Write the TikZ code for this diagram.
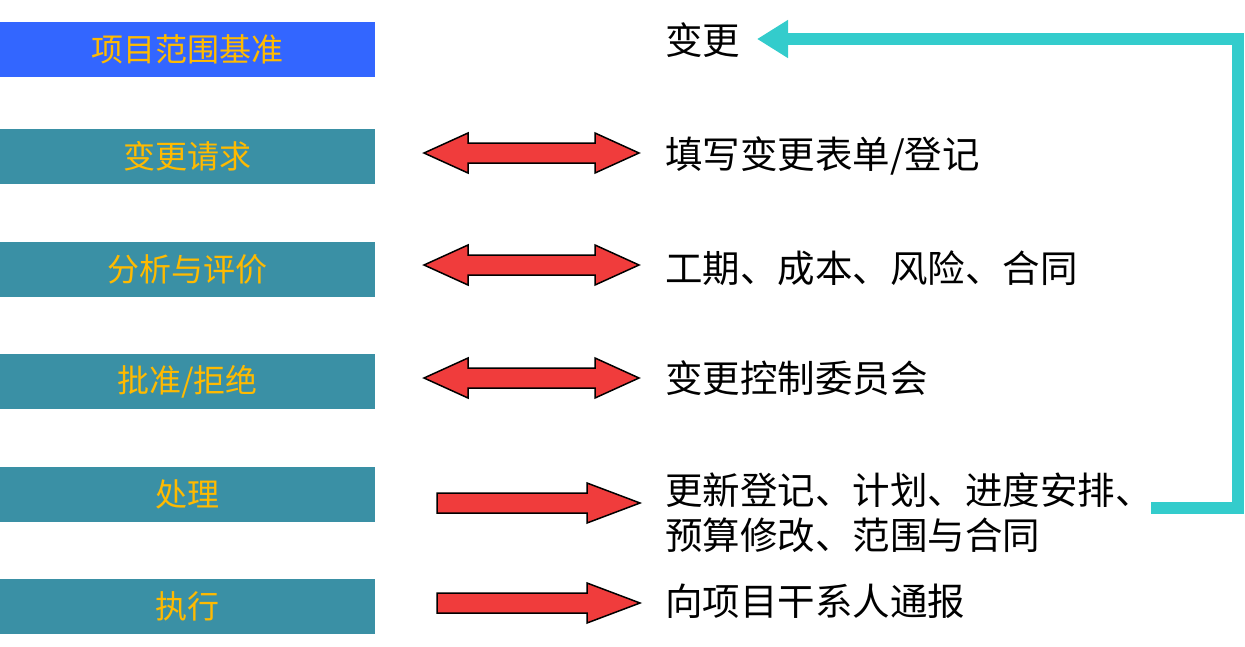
\documentclass[tikz,border=0pt]{standalone}
\usepackage{fontspec}
\setmainfont{Noto Sans CJK SC}
\usetikzlibrary{arrows.meta}
\definecolor{basblue}{HTML}{3366FF}
\definecolor{stepteal}{HTML}{3A90A5}
\definecolor{txtgold}{HTML}{FFBA00}
\definecolor{arrred}{HTML}{F03C3C}
\definecolor{loopcyan}{HTML}{33CCCC}
\tikzset{
  leftbox/.style={fill=stepteal, minimum width=375pt, minimum height=55pt, inner sep=0pt,
    text=txtgold, font=\fontsize{32}{38}\selectfont},
  righttext/.style={anchor=west, inner sep=0pt, font=\fontsize{37.5}{45}\selectfont, align=left, text=black},
  redshape/.style={fill=arrred, draw=black, line width=1.5pt, line join=miter},
  dblarrow/.pic={\path[redshape] (-107.5,0) -- (-63.5,-20) -- (-63.5,-10) -- (63.5,-10) -- (63.5,-20)
     -- (107.5,0) -- (63.5,20) -- (63.5,10) -- (-63.5,10) -- (-63.5,20) -- cycle;},
  sglarrow/.pic={\path[redshape] (-101.5,-10) -- (48.5,-10) -- (48.5,-20) -- (101.5,0)
     -- (48.5,20) -- (48.5,10) -- (-101.5,10) -- cycle;},
  loopline/.style={draw=loopcyan, line width=12pt, line join=miter,
     -{Triangle[length=31pt,width=36pt]}}
}
\begin{document}
\begin{tikzpicture}[x=1pt,y=-1pt]
\useasboundingbox (0,0) rectangle (1245,646);
% left boxes
\node[leftbox, fill=basblue] (b1) at (187.5,49.5) {项目范围基准};
\node[leftbox] (b2) at (187.5,156.5) {变更请求};
\node[leftbox] (b3) at (187.5,269.5) {分析与评价};
\node[leftbox] (b4) at (187.5,381.5) {批准/拒绝};
\node[leftbox] (b5) at (187.5,494.5) {处理};
\node[leftbox] (b6) at (187.5,606.5) {执行};
% right texts
\node[righttext] (t1) at (665,40) {变更};
\node[righttext] (t2) at (665,156) {填写变更表单/登记};
\node[righttext] (t3) at (665,268) {工期、成本、风险、合同};
\node[righttext] (t4) at (665,378) {变更控制委员会};
\node[righttext] (t5) at (665,512.5) {更新登记、计划、进度安排、\\预算修改、范围与合同};
\node[righttext] (t6) at (665,601) {向项目干系人通报};
% red arrows
\pic (a2) at (531.5,153) {dblarrow};
\pic (a3) at (531.5,265) {dblarrow};
\pic (a4) at (531.5,378) {dblarrow};
\pic (a5) at (538.5,503) {sglarrow};
\pic (a6) at (538.5,603) {sglarrow};
% feedback loop
\coordinate (loopstart) at (1151,508);
\coordinate (looptip) at (757,39);
\draw[loopline] (loopstart) -- (1238,508) -- (1238,39) -- (looptip);
\end{tikzpicture}
\end{document}
